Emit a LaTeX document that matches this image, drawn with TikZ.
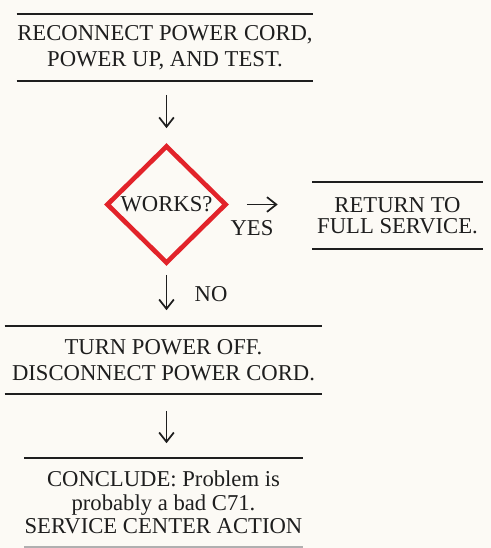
\documentclass[tikz,border=0pt]{standalone}
\usepackage{fontspec}
\setmainfont{Liberation Serif}
\usepackage{tikz}
\usetikzlibrary{arrows.meta,positioning,shapes.geometric}
\definecolor{ink}{HTML}{1E1E1E}
\definecolor{warnred}{HTML}{E2232A}
\definecolor{paper}{HTML}{FCFAF5}
\newdimen\px \px=0.75pt
\newcommand{\flowfont}{\fontsize{17}{19.5}\selectfont}

\begin{document}
\begin{tikzpicture}[x=0.75pt,y=-0.75pt,>={Straight Barb[length=7pt,width=11pt]},
  stepbox/.style={align=center,inner sep=0pt,text=ink,font=\flowfont},
  rule/.style={ink,line width=1.5pt},
  flow/.style={->,ink,line width=1.3pt},
  lbl/.style={inner sep=0pt,text=ink,font=\flowfont}]
  \fill[paper] (0,0) rectangle (491,548);
  \useasboundingbox (0,0) rectangle (491,548);
  % steps
  \node[stepbox,minimum width=296\px,minimum height=67\px] (reconnect) at (165,47.5) {RECONNECT POWER CORD,\\POWER UP, AND TEST.};
  \node[diamond,draw=warnred,line width=3.5pt,minimum width=120\px,minimum height=118\px,inner sep=0pt,text=ink,font=\flowfont] (works) at (166.5,204.5) {WORKS?};
  \node[stepbox,minimum width=170\px,minimum height=67\px,font=\fontsize{17}{16}\selectfont] (back) at (397.5,215.5) {RETURN TO\\FULL SERVICE.};
  \node[stepbox,minimum width=317\px,minimum height=67\px] (turnoff) at (163.5,360) {TURN POWER OFF.\\DISCONNECT POWER CORD.};
  \node[stepbox,minimum width=273\px,minimum height=88\px,font=\fontsize{17}{17.6}\selectfont] (conclude) at (163.5,502.5) {CONCLUDE: Problem is\\probably a bad C71.\\SERVICE CENTER ACTION};
  % rules
  \foreach \s in {reconnect,back,turnoff} {
    \draw[rule] (\s.north west) -- (\s.north east);
    \draw[rule] (\s.south west) -- (\s.south east);
  }
  \draw[rule] (conclude.north west) -- (conclude.north east);
  \draw[rule,ink!35] (conclude.south west) -- (conclude.south east);
  % flow
  \draw[flow,shorten <=13.5\px,shorten >=15\px] (reconnect.south -| works.north) -- (works.north);
  \draw[flow,shorten <=18\px,shorten >=34.5\px] (works.east) -- (works.east -| back.west);
  \draw[flow,shorten <=9\px,shorten >=16\px] (works.south) -- (works.south |- turnoff.north);
  \draw[flow,shorten <=17\px,shorten >=15\px] (works.south |- turnoff.south) -- (works.south |- conclude.north);
  \node[lbl] (yes) at (252,228) {YES};
  \node[lbl] (no) at (211,294.5) {NO};
\end{tikzpicture}
\end{document}
